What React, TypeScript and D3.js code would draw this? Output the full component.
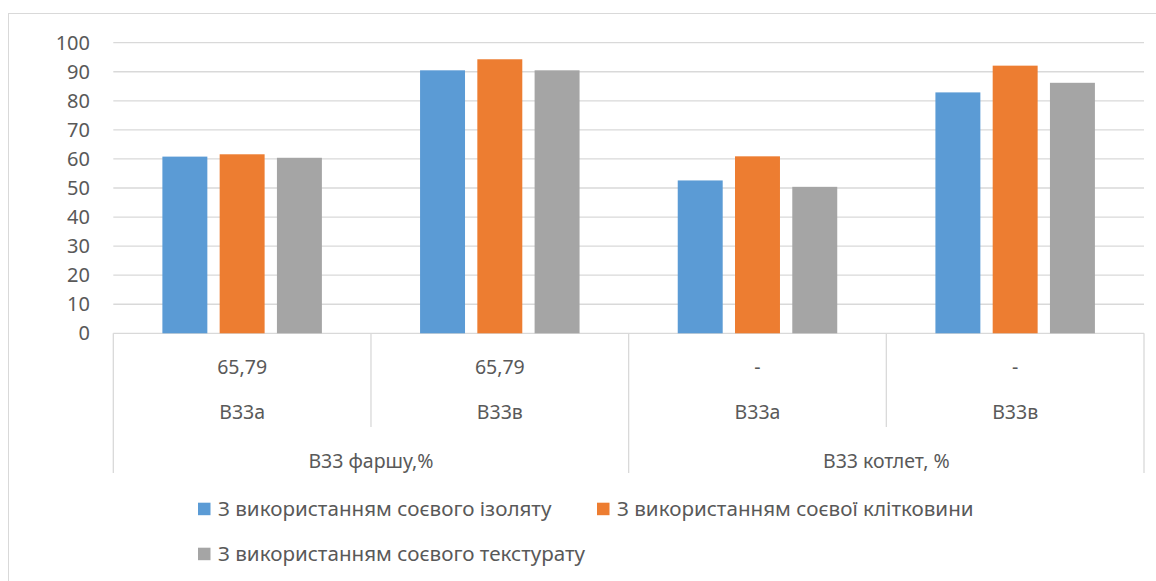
import React from "react";
import * as d3 from "d3";

const groups = ["В33 фаршу,%", "В33 котлет, %"];
const subCategories = ["В33а", "В33в", "В33а", "В33в"];
const topLabels = ["65,79", "65,79", "-", "-"];
const groupOfCategory = [0, 0, 1, 1];
const seriesNames = [
  "З використанням соєвого ізоляту",
  "З використанням соєвої клітковини",
  "З використанням соєвого текстурату",
];
const isolateValues = [60.8, 90.5, 52.6, 82.9];
const fiberValues = [61.6, 94.3, 60.9, 92.1];
const texturateValues = [60.4, 90.5, 50.4, 86.2];
const yTicks = [0, 10, 20, 30, 40, 50, 60, 70, 80, 90, 100];
const colors = ["#5B9BD5", "#ED7D31", "#A5A5A5"];

const W = 1156;
const H = 581;
const plotLeft = 113.3;
const plotRight = 1144;
const plotTop = 42.7;
const plotBottom = 333.3;
const font = "'Noto Sans', 'Open Sans', sans-serif";
const textColor = "#595959";
const gridColor = "#D9D9D9";

export default function App() {
  const series = [isolateValues, fiberValues, texturateValues];
  const idx = subCategories.map((_, i) => String(i));
  const x = d3.scaleBand<string>().domain(idx).range([plotLeft, plotRight]).padding(0);
  const xInner = d3
    .scaleBand<string>()
    .domain(series.map((_, i) => String(i)))
    .range([0, x.bandwidth()])
    .paddingInner(0.215)
    .paddingOuter(0.857);
  const y = d3.scaleLinear().domain([0, 100]).range([plotBottom, plotTop]);

  const groupBounds = groups.map((_, g) => {
    const cats = idx.filter((_, i) => groupOfCategory[i] === g);
    const x0 = x(cats[0])!;
    const x1 = x(cats[cats.length - 1])! + x.bandwidth();
    return [x0, x1];
  });

  const legendItems = [
    { x: 198, y: 509 },
    { x: 597, y: 509 },
    { x: 198, y: 554 },
  ];

  return (
    <svg
      width={W}
      height={H}
      style={{ position: "absolute", left: 0, top: 0, background: "#fff" }}
      fontFamily={font}
    >
      <rect x={8.5} y={13.5} width={1200} height={700} fill="#fff" stroke={gridColor} strokeWidth={1} />
      {yTicks.map((t) => (
        <g key={t}>
          <line x1={plotLeft} x2={plotRight} y1={y(t)} y2={y(t)} stroke={gridColor} strokeWidth={1.3} />
          <text x={90} y={y(t)} dy="0.35em" textAnchor="end" fontSize={20} fill={textColor}>
            {t}
          </text>
        </g>
      ))}
      {series.map((vals, s) =>
        vals.map((v, i) => (
          <rect
            key={`${s}-${i}`}
            x={x(String(i))! + xInner(String(s))!}
            y={y(v)}
            width={xInner.bandwidth()}
            height={y(0) - y(v)}
            fill={colors[s]}
          />
        ))
      )}
      {idx.map((k, i) =>
        i > 0 && groupOfCategory[i] === groupOfCategory[i - 1] ? (
          <line key={"d" + i} x1={x(k)!} x2={x(k)!} y1={plotBottom} y2={427} stroke={gridColor} strokeWidth={1.3} />
        ) : null
      )}
      {[plotLeft, ...groupBounds.map((b) => b[1])].map((xx, i) => (
        <line key={"g" + i} x1={xx} x2={xx} y1={plotBottom} y2={473} stroke={gridColor} strokeWidth={1.3} />
      ))}
      {idx.map((k, i) => (
        <g key={"l" + i}>
          <text x={x(k)! + x.bandwidth() / 2} y={367} dy="0.35em" textAnchor="middle" fontSize={19.5} fill={textColor}>
            {topLabels[i]}
          </text>
          <text x={x(k)! + x.bandwidth() / 2} y={412} dy="0.35em" textAnchor="middle" fontSize={19.5} fill={textColor}>
            {subCategories[i]}
          </text>
        </g>
      ))}
      {groups.map((g, i) => (
        <text
          key={"gl" + i}
          x={(groupBounds[i][0] + groupBounds[i][1]) / 2}
          y={461}
          dy="0.35em"
          textAnchor="middle"
          fontSize={19.5}
          fill={textColor}
        >
          {g}
        </text>
      ))}
      {seriesNames.map((n, i) => (
        <g key={"lg" + i}>
          <rect x={legendItems[i].x} y={legendItems[i].y - 6.3} width={12.5} height={12.5} fill={colors[i]} />
          <text x={legendItems[i].x + 20} y={legendItems[i].y} dy="0.35em" fontSize={20.6} fill={textColor}>
            {n}
          </text>
        </g>
      ))}
    </svg>
  );
}
